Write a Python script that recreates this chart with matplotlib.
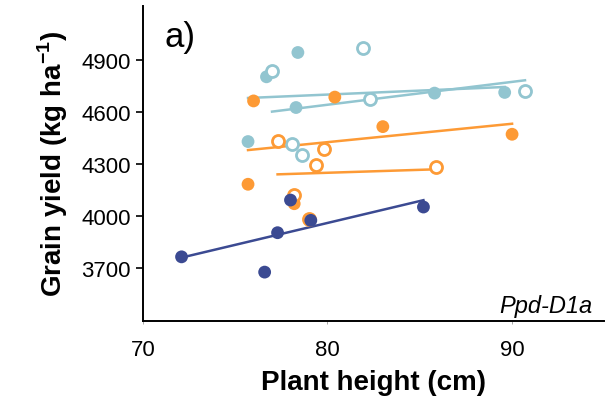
import numpy as np
import matplotlib
matplotlib.use("Agg")
import matplotlib.pyplot as plt

plt.rcParams['font.family'] = ['Liberation Sans', 'DejaVu Sans']
plt.rcParams['mathtext.fontset'] = 'custom'
plt.rcParams['mathtext.rm'] = 'Liberation Sans'
plt.rcParams['mathtext.bf'] = 'Liberation Sans:bold'

# plant height (cm) and grain yield (kg/ha) per group
teal_fill_x = [78.4, 76.7, 78.3, 75.7, 85.8, 89.6]
teal_fill_y = [4944, 4804, 4627, 4431, 4710, 4714]
teal_open_x = [81.9, 77.0, 82.3, 78.1, 78.6, 90.7]
teal_open_y = [4971, 4835, 4675, 4415, 4352, 4723]
orange_fill_x = [76.0, 80.4, 83.0, 90.0, 75.7, 78.2]
orange_fill_y = [4665, 4687, 4517, 4473, 4185, 4073]
orange_open_x = [77.3, 79.8, 79.4, 85.9, 78.2, 79.0]
orange_open_y = [4434, 4386, 4294, 4286, 4123, 3983]
navy_fill_x = [78.0, 79.1, 77.3, 72.1, 76.6, 85.2]
navy_fill_y = [4094, 3977, 3906, 3767, 3679, 4054]

teal = '#92C5D0'
orange = '#FD9A35'
navy = '#3B4A92'

groups = [
    (teal_fill_x, teal_fill_y, teal, True),
    (teal_open_x, teal_open_y, teal, False),
    (orange_fill_x, orange_fill_y, orange, True),
    (orange_open_x, orange_open_y, orange, False),
    (navy_fill_x, navy_fill_y, navy, True),
]

fig = plt.figure(figsize=(6.05, 4.06), dpi=100)
ax = fig.add_axes([0.236, 0.208, 0.763, 0.774])

for gx, gy, col, filled in groups:
    gx = np.array(gx)
    gy = np.array(gy)
    k, b = np.polyfit(gx, gy, 1)
    xs = np.array([gx.min(), gx.max()])
    ax.plot(xs, k * xs + b, color=col, lw=1.8, zorder=2)
    if filled:
        ax.scatter(gx, gy, s=85, color=col, edgecolors='none', zorder=3)
    else:
        ax.scatter(gx, gy, s=75, facecolors='white', edgecolors=col,
                   linewidths=2.0, zorder=3)

ax.set_xlim(70, 95)
ax.set_ylim(3400, 5210)
ax.set_xticks([70, 80, 90])
ax.set_yticks([3700, 4000, 4300, 4600, 4900])
ax.tick_params(axis='y', length=5, width=1.2, labelsize=16, colors='black')
ax.tick_params(axis='x', length=2, width=0.6, labelsize=16, pad=11,
               color='#999999', labelcolor='black')
for s in ['top', 'right']:
    ax.spines[s].set_visible(False)
for s in ['left', 'bottom']:
    ax.spines[s].set_linewidth(1.4)

ax.set_xlabel('Plant height (cm)', fontsize=20, fontweight='bold', labelpad=7)
ax.set_ylabel(r'Grain yield (kg ha$^{\mathbf{-1}}$)', fontsize=20,
              fontweight='bold', labelpad=8)

ax.text(0.048, 0.905, 'a)', transform=ax.transAxes, fontsize=25,
        va='center', ha='left')
ax.text(0.974, 0.028, 'Ppd-D1a', transform=ax.transAxes, fontsize=17,
        style='italic', ha='right', va='baseline')

fig.savefig('out.png', dpi=100)
